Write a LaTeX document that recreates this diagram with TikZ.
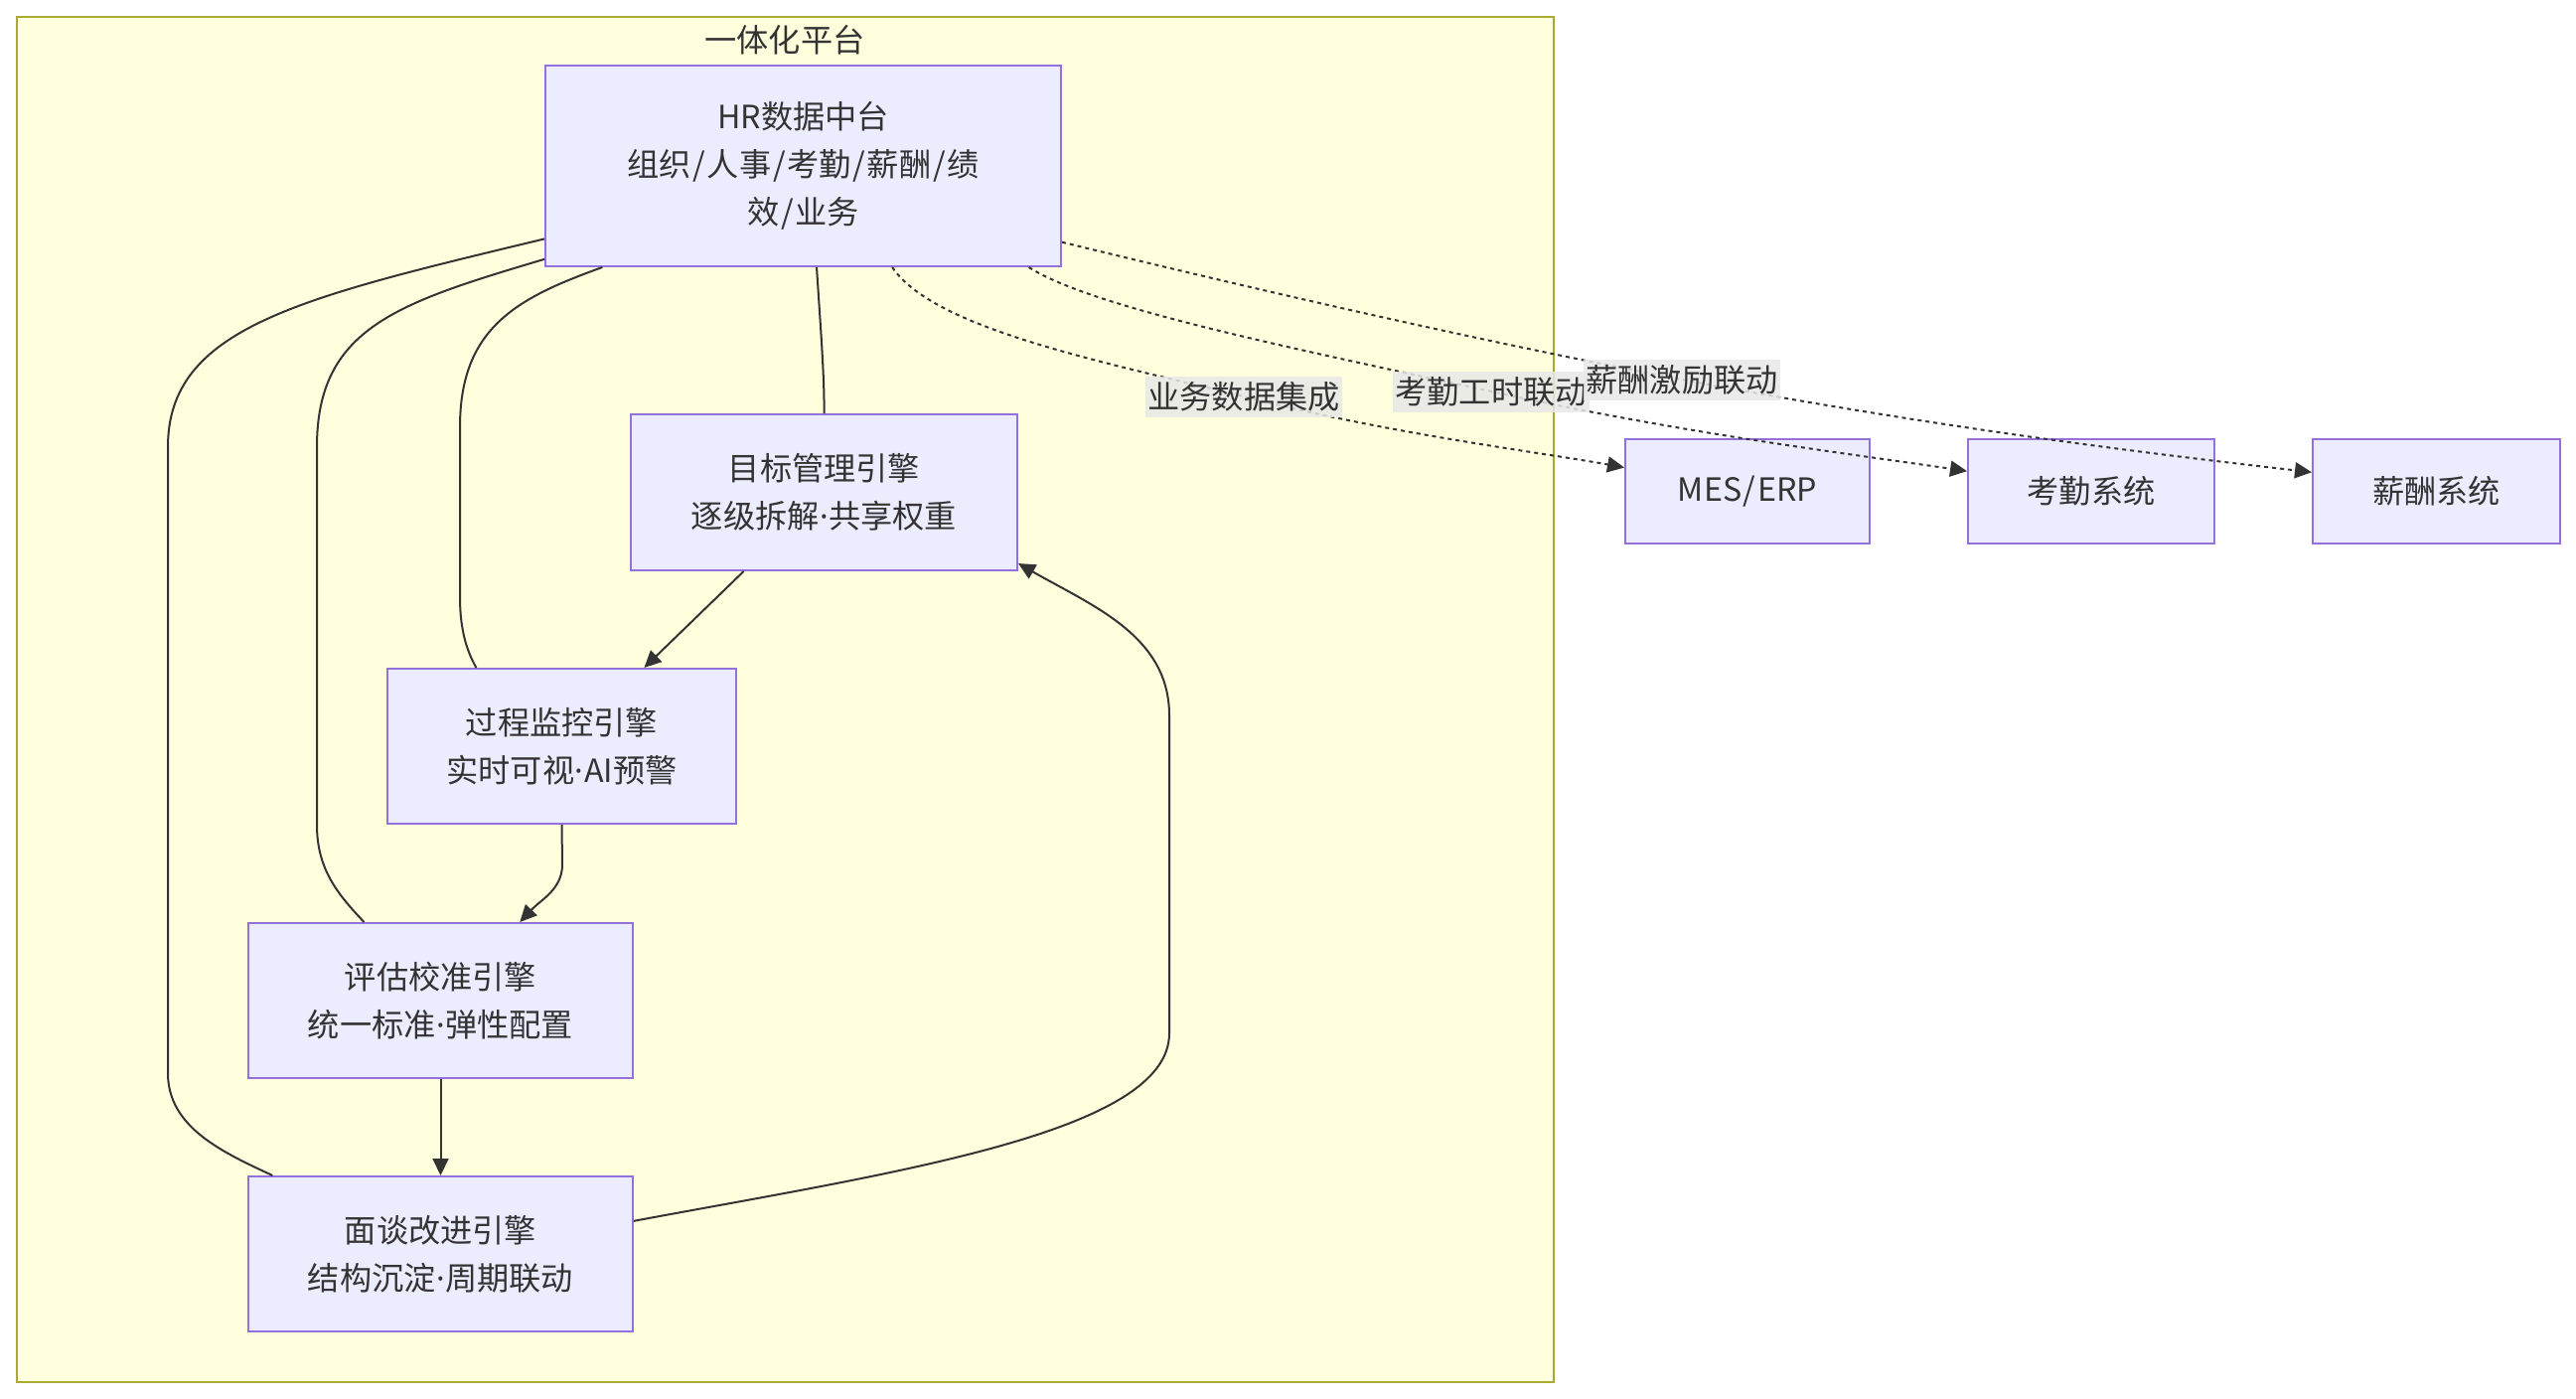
\documentclass[tikz,border=0pt]{standalone}
\usepackage{fontspec}
\setmainfont{Noto Sans CJK SC}
\newfontfamily\dotfont{Noto Sans}
\usetikzlibrary{arrows.meta,calc}
\definecolor{clfill}{HTML}{FFFFDE}
\definecolor{cldraw}{HTML}{AAAA33}
\definecolor{nfill}{HTML}{ECECFF}
\definecolor{ndraw}{HTML}{9370DB}
\definecolor{txt}{HTML}{333333}
\definecolor{lblbg}{HTML}{E8E8E8}
\newcommand\mdot{\makebox[0.3em]{\dotfont ·}}
\newcommand\slsh{\makebox[0.5em]{/}}
\begin{document}
\begin{tikzpicture}[x=0.5pt,y=-0.5pt,
  font=\fontsize{16.1}{24}\selectfont, text=txt,
  box/.style={draw=ndraw, fill=nfill, line width=1pt, align=center, inner sep=0pt},
  link/.style={draw=txt, line width=1pt},
  arr/.style={link, -{Triangle[length=8.5pt,width=8pt]}},
  dotlink/.style={arr, dash pattern=on 2pt off 2pt},
  lbl/.style={fill=lblbg, fill opacity=0.85, text opacity=1, inner xsep=1pt, inner ysep=0pt, minimum height=20.5pt}]
\useasboundingbox (0,0) rectangle (2593,1408);
\fill[white] (0,0) rectangle (2593,1408);
% cluster
\draw[draw=cldraw, fill=clfill, line width=1pt] (16.5,16.5) rectangle (1564,1391);
\node (title) at (790,40) {一体化平台};
% nodes
\node[box, minimum width=259.5pt, minimum height=101pt] (hr) at (808.5,167) {HR数据中台\\组织\slsh 人事\slsh 考勤\slsh 薪酬\slsh 绩\\效\slsh 业务};
\node[box, minimum width=194.5pt, minimum height=78.5pt] (goal) at (829.5,495.5) {目标管理引擎\\逐级拆解\mdot 共享权重};
\node[box, minimum width=175.5pt, minimum height=78pt] (proc) at (565.5,751) {过程监控引擎\\实时可视\mdot AI预警};
\node[box, minimum width=193.5pt, minimum height=78pt] (eval) at (443.5,1007) {评估校准引擎\\统一标准\mdot 弹性配置};
\node[box, minimum width=193.5pt, minimum height=78pt] (talk) at (443.5,1262) {面谈改进引擎\\结构沉淀\mdot 周期联动};
\node[box, minimum width=123pt, minimum height=52.5pt] (mes) at (1759,494.5) {MES\slsh ERP};
\node[box, minimum width=124pt, minimum height=52.5pt] (att) at (2105,494.5) {考勤系统};
\node[box, minimum width=124.5pt, minimum height=52.5pt] (pay) at (2452.5,494.5) {薪酬系统};
% anchor points
\coordinate (hrA) at ($(hr.south west)!0.112!(hr.south east)$);
\coordinate (hrB) at ($(hr.south west)!0.526!(hr.south east)$);
\coordinate (hrC) at ($(hr.south west)!0.672!(hr.south east)$);
\coordinate (hrD) at ($(hr.south west)!0.936!(hr.south east)$);
\coordinate (hrL1) at ($(hr.north west)!0.96!(hr.south west)$);
\coordinate (hrL2) at ($(hr.north west)!0.86!(hr.south west)$);
\coordinate (hrR) at ($(hr.north east)!0.876!(hr.south east)$);
% solid links from HR
\draw[link] (hrB) .. controls (826,330) and (830,380) .. (goal.north);
\draw[link] (hrA) .. controls (520,300) and (463,330) .. (463,430) -- (463,600) .. controls (463,635) and (470,655) .. ($(proc.north west)!0.256!(proc.north east)$);
\draw[link] (hrL1) .. controls (400,305) and (319,330) .. (319,450) -- (319,830) .. controls (319,875) and (340,900) .. ($(eval.north west)!0.302!(eval.north east)$);
\draw[link] (hrL2) .. controls (300,300) and (169,330) .. (169,450) -- (169,1080) .. controls (169,1135) and (225,1160) .. ($(talk.north west)!0.065!(talk.north east)$);
% flow
\draw[arr] ($(goal.south west)!0.293!(goal.south east)$) -- ($(proc.north west)!0.735!(proc.north east)$);
\draw[arr] (proc.south) -- (566,870) .. controls (566,895) and (545,905) .. ($(eval.north west)!0.705!(eval.north east)$);
\draw[arr] (eval.south) -- (talk.north);
\draw[arr] ($(talk.north east)!0.29!(talk.south east)$) .. controls (900,1180) and (1177,1140) .. (1177,1040) -- (1177,720) .. controls (1177,640) and (1100,610) .. ($(goal.north east)!0.95!(goal.south east)$);
% dotted links
\draw[dotlink] (hrC) .. controls (940,330) and (1100,362) .. (1252,399) .. controls (1400,437) and (1550,455) .. ($(mes.north west)!0.276!(mes.south west)$);
\draw[dotlink] (hrD) .. controls (1100,310) and (1300,350) .. (1501,394) .. controls (1700,437) and (1850,455) .. ($(att.north west)!0.31!(att.south west)$);
\draw[dotlink] (hrR) .. controls (1300,300) and (1500,345) .. (1693,382) .. controls (1950,430) and (2150,455) .. ($(pay.north west)!0.32!(pay.south west)$);
\node[lbl] (l1) at (1252,399) {业务数据集成};
\node[lbl] (l2) at (1501,394) {考勤工时联动};
\node[lbl] (l3) at (1693,382) {薪酬激励联动};
\end{tikzpicture}
\end{document}
